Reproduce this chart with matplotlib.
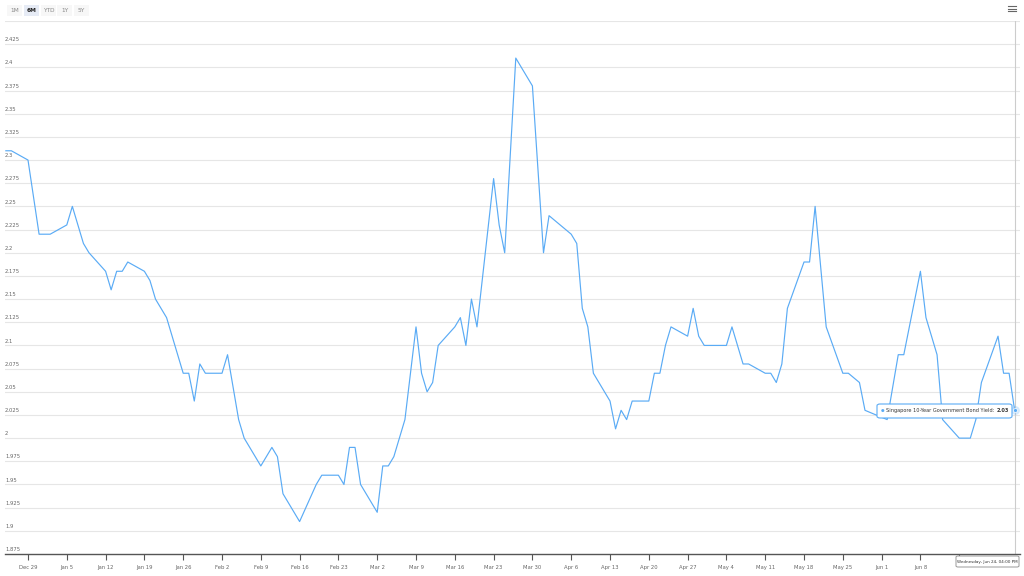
import numpy as np
import pandas as pd
import matplotlib
matplotlib.use("Agg")
import matplotlib.pyplot as plt
import matplotlib.dates as mdates
from matplotlib.patches import FancyBboxPatch, Rectangle
from matplotlib.lines import Line2D

# Singapore 10-Year Government Bond Yield (vertices of the line)
dates = [
    "2019-12-25", "2019-12-26", "2019-12-29", "2019-12-31", "2020-01-02", "2020-01-05",
    "2020-01-06", "2020-01-08", "2020-01-09", "2020-01-12", "2020-01-13", "2020-01-14",
    "2020-01-15", "2020-01-16", "2020-01-19", "2020-01-20", "2020-01-21", "2020-01-23",
    "2020-01-26", "2020-01-27", "2020-01-28", "2020-01-29", "2020-01-30", "2020-02-02",
    "2020-02-03", "2020-02-05", "2020-02-06", "2020-02-09", "2020-02-11", "2020-02-12",
    "2020-02-13", "2020-02-16", "2020-02-19", "2020-02-20", "2020-02-23", "2020-02-24",
    "2020-02-25", "2020-02-26", "2020-02-27", "2020-03-01", "2020-03-02", "2020-03-03",
    "2020-03-04", "2020-03-05", "2020-03-06", "2020-03-08", "2020-03-09", "2020-03-10",
    "2020-03-11", "2020-03-12", "2020-03-15", "2020-03-16", "2020-03-17", "2020-03-18",
    "2020-03-19", "2020-03-22", "2020-03-23", "2020-03-24", "2020-03-26", "2020-03-29",
    "2020-03-31", "2020-04-01", "2020-04-05", "2020-04-06", "2020-04-07", "2020-04-08",
    "2020-04-09", "2020-04-12", "2020-04-13", "2020-04-14", "2020-04-15", "2020-04-16",
    "2020-04-19", "2020-04-20", "2020-04-21", "2020-04-22", "2020-04-23", "2020-04-26",
    "2020-04-27", "2020-04-28", "2020-04-29", "2020-05-03", "2020-05-04", "2020-05-06",
    "2020-05-07", "2020-05-10", "2020-05-11", "2020-05-12", "2020-05-13", "2020-05-14",
    "2020-05-17", "2020-05-18", "2020-05-19", "2020-05-21", "2020-05-24", "2020-05-25",
    "2020-05-27", "2020-05-28", "2020-06-01", "2020-06-03", "2020-06-04", "2020-06-07",
    "2020-06-08", "2020-06-10", "2020-06-11", "2020-06-14", "2020-06-16", "2020-06-17",
    "2020-06-18", "2020-06-21", "2020-06-22", "2020-06-23", "2020-06-24",
]
yields = [
    2.31, 2.31, 2.30, 2.22, 2.22, 2.23,
    2.25, 2.21, 2.20, 2.18, 2.16, 2.18,
    2.18, 2.19, 2.18, 2.17, 2.15, 2.13,
    2.07, 2.07, 2.04, 2.08, 2.07, 2.07,
    2.09, 2.02, 2.00, 1.97, 1.99, 1.98,
    1.94, 1.91, 1.95, 1.96, 1.96, 1.95,
    1.99, 1.99, 1.95, 1.92, 1.97, 1.97,
    1.98, 2.00, 2.02, 2.12, 2.07, 2.05,
    2.06, 2.10, 2.12, 2.13, 2.10, 2.15,
    2.12, 2.28, 2.23, 2.20, 2.41, 2.38,
    2.20, 2.24, 2.22, 2.21, 2.14, 2.12,
    2.07, 2.04, 2.01, 2.03, 2.02, 2.04,
    2.04, 2.07, 2.07, 2.10, 2.12, 2.11,
    2.14, 2.11, 2.10, 2.10, 2.12, 2.08,
    2.08, 2.07, 2.07, 2.06, 2.08, 2.14,
    2.19, 2.19, 2.25, 2.12, 2.07, 2.07,
    2.06, 2.03, 2.02, 2.09, 2.09, 2.18,
    2.13, 2.09, 2.02, 2.00, 2.00, 2.02,
    2.06, 2.11, 2.07, 2.07, 2.03,
]
tick_labels = ["Dec 29", "Jan 5", "Jan 12", "Jan 19", "Jan 26", "Feb 2", "Feb 9", "Feb 16",
               "Feb 23", "Mar 2", "Mar 9", "Mar 16", "Mar 23", "Mar 30", "Apr 6", "Apr 13",
               "Apr 20", "Apr 27", "May 4", "May 11", "May 18", "May 25", "Jun 1", "Jun 8"]
y_ticks = [1.875, 1.9, 1.925, 1.95, 1.975, 2, 2.025, 2.05, 2.075, 2.1, 2.125, 2.15, 2.175,
           2.2, 2.225, 2.25, 2.275, 2.3, 2.325, 2.35, 2.375, 2.4, 2.425]
buttons = ["1M", "6M", "YTD", "1Y", "5Y"]

W, H = 1024, 576
LINE = "#5aabf5"
GRID = "#e6e6e6"
TXT = "#666666"


def fx(x):
    return x / W


def fy(y):
    return 1 - y / H


x = pd.to_datetime(dates)

fig = plt.figure(figsize=(W / 100, H / 100), dpi=100)
fig.patch.set_facecolor("white")

# plot area: Dec 29 sits at x=28px, 5.543 px per day
ax = fig.add_axes([fx(5), fy(554), fx(1020 - 5), (554 - 21) / H])
start = mdates.date2num(pd.Timestamp("2019-12-29"))
ax.set_xlim(start - 23 / 5.543, start + (1020 - 28) / 5.543)
ax.set_ylim(1.875, 2.45)

for v in y_ticks[1:] + [2.45]:
    ax.axhline(v, color=GRID, lw=0.8, zorder=0)
for v in y_ticks:
    ax.text(0.0, v + 0.002, f"{v:g}", transform=ax.get_yaxis_transform(),
            fontsize=3.8, color=TXT, ha="left", va="bottom")

ax.plot(x, yields, color=LINE, lw=0.85, zorder=3)

# crosshair + hovered point
ax.axvline(x[-1], color="#cccccc", lw=0.8, zorder=2)
ax.scatter([x[-1]], [yields[-1]], s=40, color=LINE, alpha=0.25, lw=0, zorder=4)
ax.scatter([x[-1]], [yields[-1]], s=8, color=LINE, edgecolor="white", lw=0.5, zorder=5)

# Jun 15 tick is there but its label sits under the date box
tick_dates = pd.date_range("2019-12-29", periods=len(tick_labels) + 1, freq="7D")
ax.set_xticks(tick_dates)
ax.set_xticklabels(tick_labels + [""], fontsize=3.8, color=TXT)
ax.set_yticks([])
ax.tick_params(axis="x", length=4, width=0.8, color="#555555", pad=4)
for s in ["top", "right", "left"]:
    ax.spines[s].set_visible(False)
ax.spines["bottom"].set_color("#555555")
ax.spines["bottom"].set_linewidth(1.0)

# range selector buttons
bx = [7, 24, 41, 57, 74]
for i, b in enumerate(buttons):
    sel = b == "6M"
    fig.patches.append(Rectangle((fx(bx[i]), fy(16)), fx(15), 11 / H, transform=fig.transFigure,
                                 facecolor="#e6ebf5" if sel else "#f7f7f7", edgecolor="none"))
    fig.text(fx(bx[i] + 7.5), fy(10.5), b, fontsize=4.2, ha="center", va="center",
             color="#222222" if sel else "#888888", weight="bold" if sel else "normal")

# export menu icon
for yy in [6, 8.5, 11]:
    fig.lines.append(Line2D([fx(1008), fx(1016)], [fy(yy), fy(yy)], transform=fig.transFigure,
                            color="#666666", lw=0.8))

# tooltip
fig.patches.append(FancyBboxPatch((fx(877), fy(418)), fx(135), 14 / H, transform=fig.transFigure,
                                  boxstyle="round,pad=0,rounding_size=0.003",
                                  facecolor="white", edgecolor=LINE, lw=0.8, zorder=10))
fig.text(fx(881), fy(410.5), "●", fontsize=3, color=LINE, va="center", zorder=11)
t1 = fig.text(fx(886), fy(410.5), "Singapore 10-Year Government Bond Yield:", fontsize=3.6,
              color="#333333", va="center", zorder=11)
r = fig.canvas.get_renderer()
bb = t1.get_window_extent(renderer=r)
fig.text(fx(bb.x1 + 2), fy(410.5), "2.03", fontsize=3.6, weight="bold", color="#333333",
         va="center", zorder=11)

# date label under crosshair
fig.patches.append(FancyBboxPatch((fx(956), fy(567)), fx(63), 11 / H, transform=fig.transFigure,
                                  boxstyle="round,pad=0,rounding_size=0.002",
                                  facecolor="white", edgecolor="#999999", lw=0.7, zorder=10))
fig.text(fx(987.5), fy(561.5), "Wednesday, Jun 24, 04:00 PM", fontsize=3.0, color="#333333",
         ha="center", va="center", zorder=11)

fig.savefig("out.png", dpi=100, facecolor="white")
